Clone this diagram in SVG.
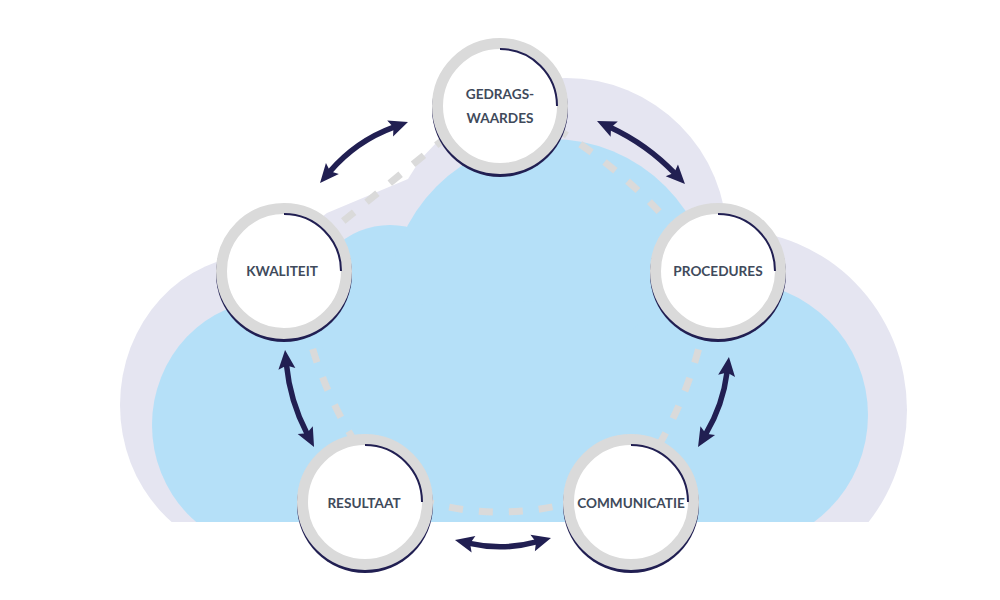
<svg xmlns="http://www.w3.org/2000/svg" width="1000" height="600" viewBox="0 0 1000 600">
  <style>
    .lav { fill: #e5e5f1; }
    .blue { fill: #b5e0f8; }
    .dash { fill: none; stroke: #dadada; stroke-width: 7; stroke-dasharray: 14 16; }
    .arrow { fill: none; stroke: #211f52; stroke-width: 5.5; marker-start: url(#ah); marker-end: url(#ah); }
    .shadow { fill: #211f52; }
    .ring { fill: #ffffff; stroke: #dadada; stroke-width: 11; }
    .arc { fill: none; stroke: #211f52; stroke-width: 2; }
    .lbl { font-family: "Lato", "Liberation Sans", sans-serif; font-weight: 700; font-size: 13.6px; fill: #404a5b; text-anchor: middle; }
  </style>
  <defs>
    <clipPath id="cut"><rect x="0" y="0" width="1000" height="522"/></clipPath>
    <marker id="ah" viewBox="-3 -9 22 18" refX="2" refY="0" markerWidth="22" markerHeight="18" markerUnits="userSpaceOnUse" orient="auto-start-reverse">
      <path d="M-2,-8.5 L17,0 L-2,8.5 L1.5,0 Z" fill="#211f52"/>
    </marker>
  </defs>

  <g id="cloud" clip-path="url(#cut)">
    <g id="cloud-back">
      <ellipse class="lav" cx="258" cy="405" rx="138" ry="150"/>
      <ellipse class="lav" cx="730" cy="410" rx="177" ry="180"/>
      <circle class="lav" cx="566" cy="239" r="161"/>
      <polygon class="lav" points="305,230 327,213 408,179 420,160 437,142 470,150 470,330 300,330"/>
      <rect class="lav" x="250" y="300" width="500" height="222"/>
    </g>
    <g id="cloud-front">
      <ellipse class="blue" cx="272" cy="425" rx="120" ry="125"/>
      <circle class="blue" cx="390" cy="305" r="80"/>
      <circle class="blue" cx="551" cy="301" r="162"/>
      <circle class="blue" cx="735" cy="415" r="133"/>
      <polygon class="blue" points="272,425 390,305 551,301 735,415 735,522 272,522"/>
    </g>
  </g>

  <g id="connectors">
    <path class="dash" d="M320,240 L455,130"/>
    <path class="dash" d="M555,128 Q626.5,171 680,235"/>
    <path class="dash" d="M705,320 Q691.5,394 650,460"/>
    <path class="dash" d="M305,320 Q320.5,389 360,450"/>
    <path class="dash" d="M420,500 Q500,524 580,500"/>
    <path class="arrow" d="M329.8,171.6 Q356,141 393.9,127.1"/>
    <path class="arrow" d="M610.6,127.4 Q647,144.4 674.6,173.2"/>
    <path class="arrow" d="M727.1,371.9 Q723,405 705.7,434.1"/>
    <path class="arrow" d="M286.5,364.9 Q290,401 307.1,433.7"/>
    <path class="arrow" d="M469.6,543.4 Q503,551 536.5,541.9"/>
  </g>

  <g id="node-gedragswaardes">
    <circle class="shadow" cx="500" cy="109" r="68"/>
    <circle class="ring" cx="500" cy="106" r="62.5"/>
    <path class="arc" d="M500,49 A57,57 0 0 1 557,106"/>
    <text class="lbl" x="500" y="98.5">GEDRAGS-</text>
    <text class="lbl" x="500" y="122.5">WAARDES</text>
  </g>
  <g id="node-kwaliteit">
    <circle class="shadow" cx="284" cy="274" r="68"/>
    <circle class="ring" cx="284" cy="271" r="62.5"/>
    <path class="arc" d="M284,214 A57,57 0 0 1 341,271"/>
    <text class="lbl" x="282" y="276">KWALITEIT</text>
  </g>
  <g id="node-procedures">
    <circle class="shadow" cx="718" cy="274" r="68"/>
    <circle class="ring" cx="718" cy="271" r="62.5"/>
    <path class="arc" d="M718,214 A57,57 0 0 1 775,271"/>
    <text class="lbl" x="718" y="276">PROCEDURES</text>
  </g>
  <g id="node-resultaat">
    <circle class="shadow" cx="365" cy="505" r="68"/>
    <circle class="ring" cx="365" cy="502" r="62.5"/>
    <path class="arc" d="M365,445 A57,57 0 0 1 422,502"/>
    <text class="lbl" x="364" y="508">RESULTAAT</text>
  </g>
  <g id="node-communicatie">
    <circle class="shadow" cx="631" cy="505" r="68"/>
    <circle class="ring" cx="631" cy="502" r="62.5"/>
    <path class="arc" d="M631,445 A57,57 0 0 1 688,502"/>
    <text class="lbl" x="631" y="508">COMMUNICATIE</text>
  </g>
</svg>
